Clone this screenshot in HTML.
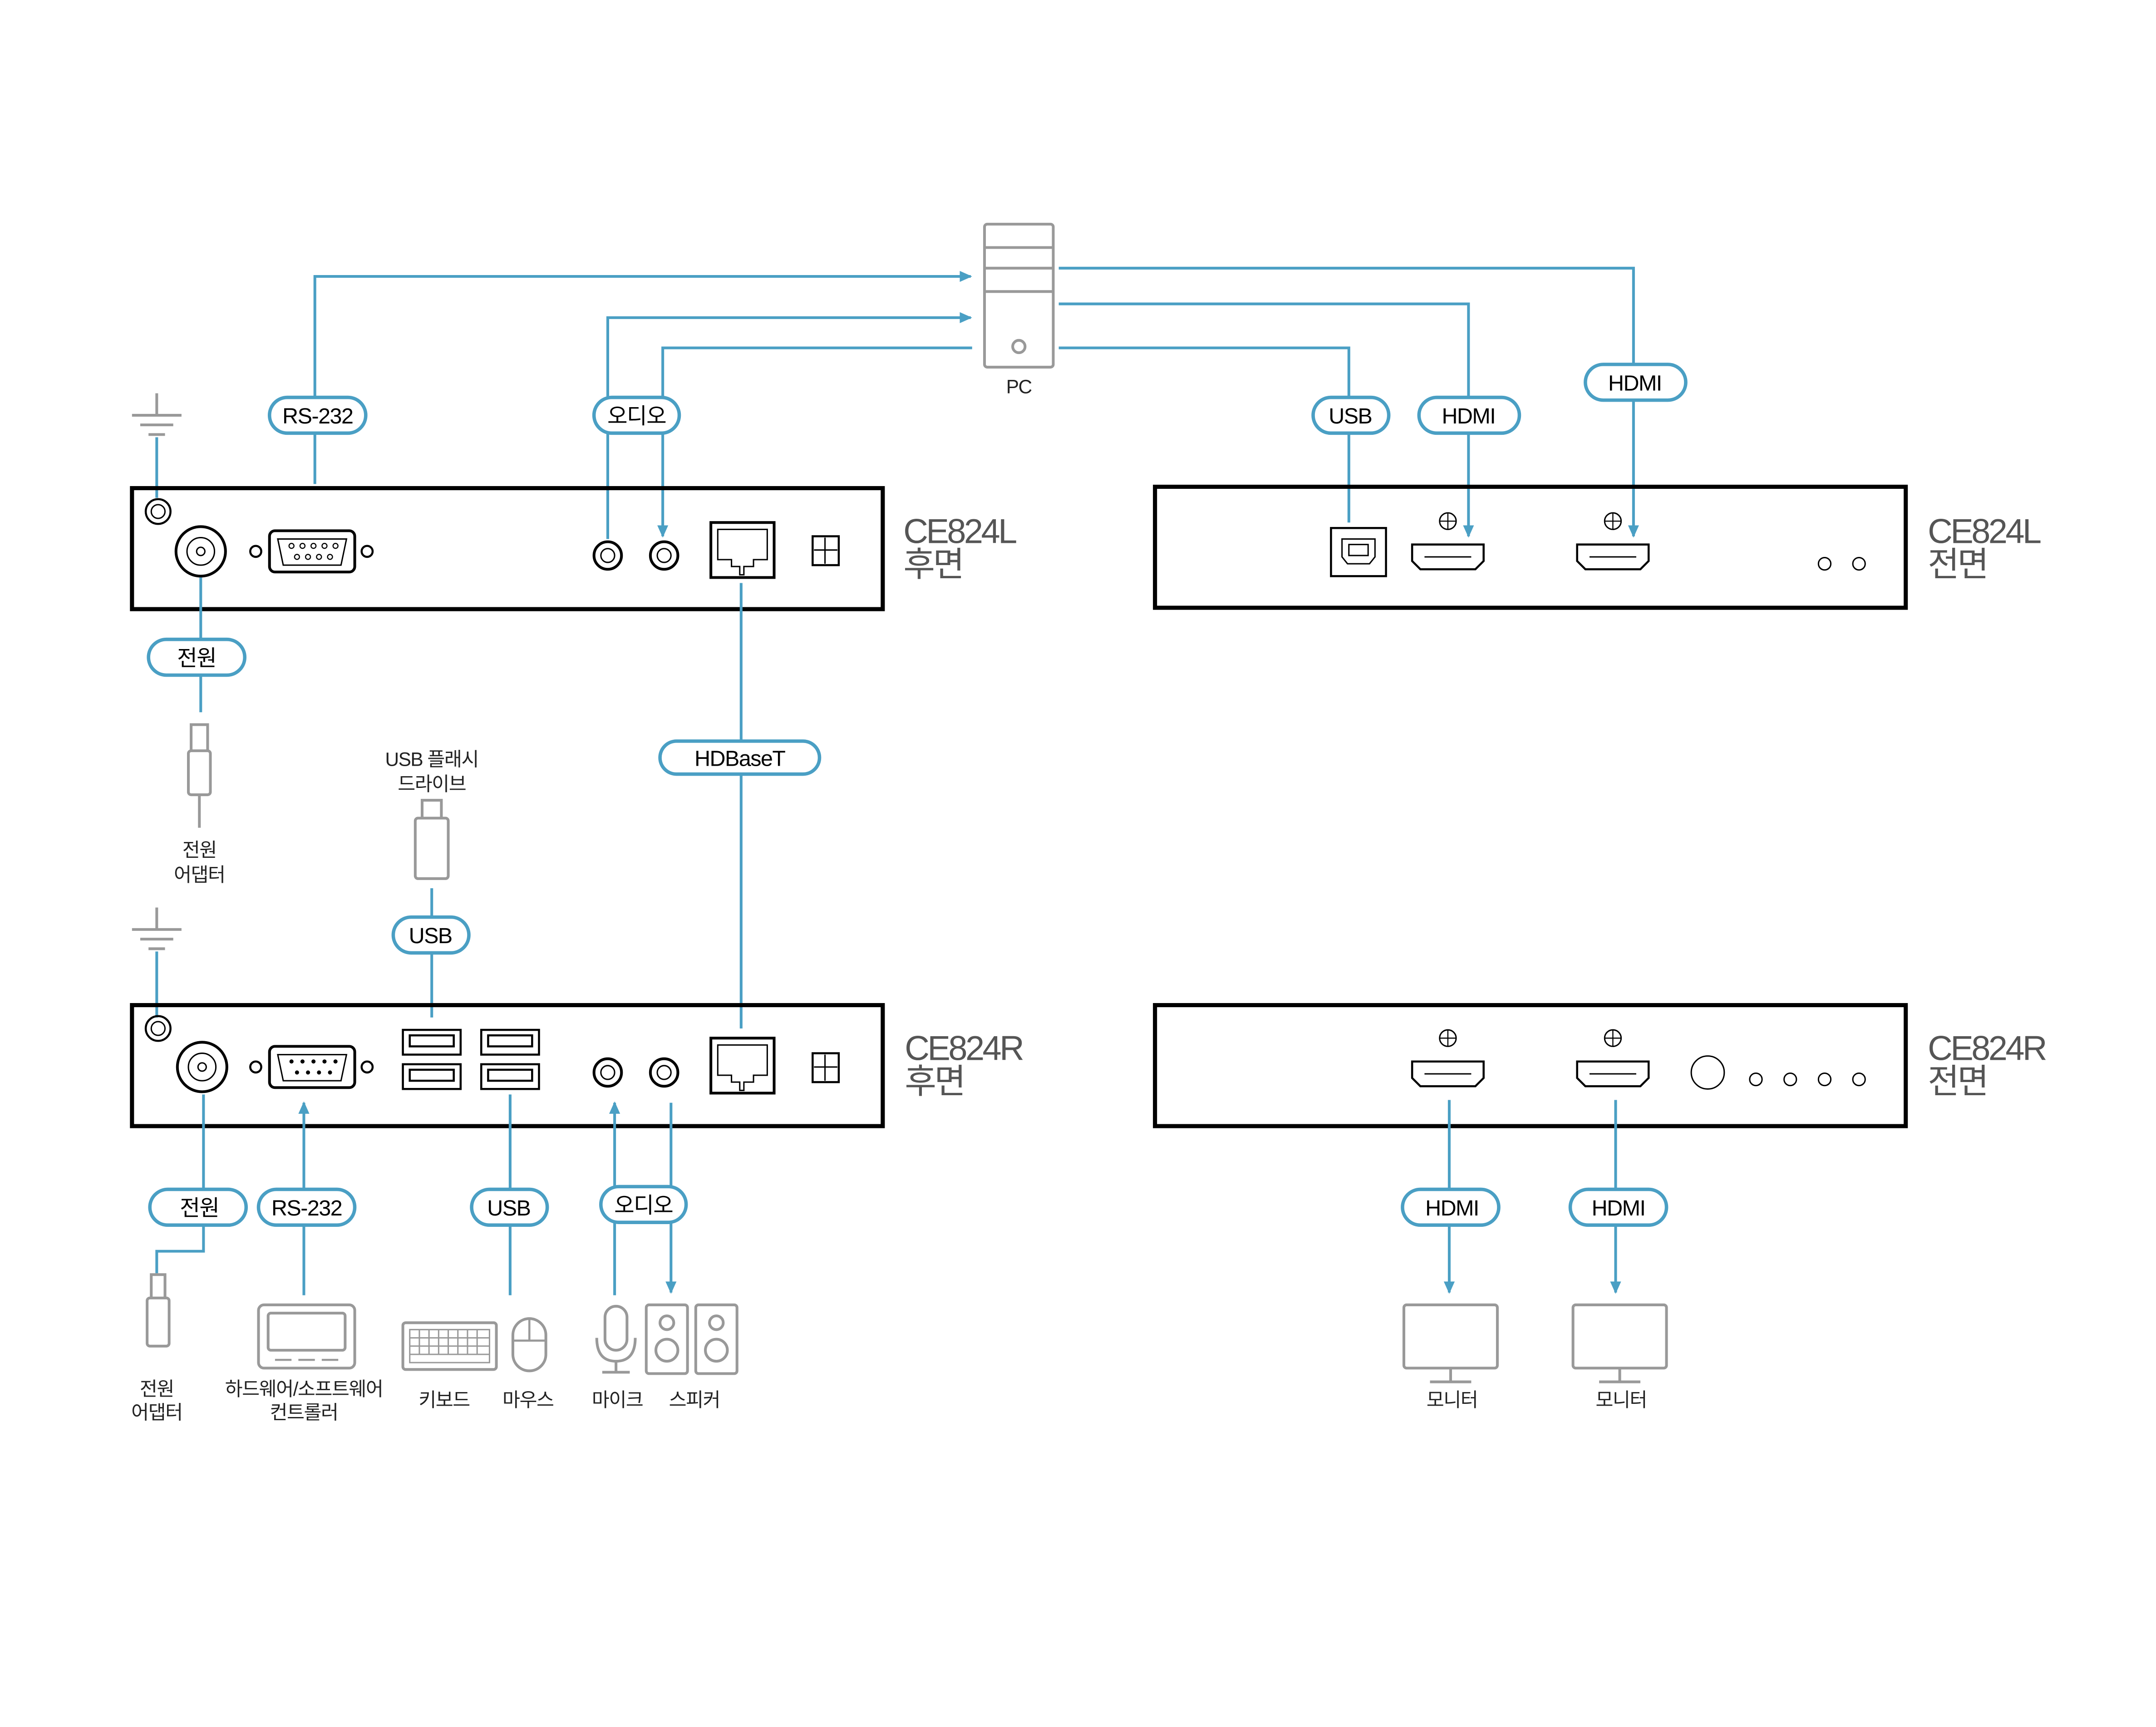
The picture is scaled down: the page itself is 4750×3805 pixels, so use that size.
<!DOCTYPE html>
<html><head><meta charset="utf-8"><style>
html,body{margin:0;padding:0;background:#fff}
svg{display:block}
text{font-family:"Liberation Sans","Noto Sans CJK KR",sans-serif}
.b{stroke:#4a9fc4;stroke-width:2;fill:none}
.k{stroke:#000;fill:none}
.g{stroke:#999;fill:#fff;stroke-width:2}
.p rect{fill:#fff;stroke:#4a9fc4;stroke-width:2.5}
.p text{font-size:16px;text-anchor:middle;fill:#000;letter-spacing:-0.5px}
.t{font-size:14px;text-anchor:middle;fill:#222;letter-spacing:-0.5px}
.big{font-size:25px;fill:#555;letter-spacing:-1.5px}
</style></head><body>
<svg width="4750" height="3805" viewBox="0 0 1568 1256" xmlns="http://www.w3.org/2000/svg">
<defs><marker id="a" markerWidth="10" markerHeight="10" refX="8" refY="5" orient="auto" markerUnits="userSpaceOnUse"><path d="M0,1 L9,5 L0,9 Z" fill="#4a9fc4"/></marker></defs>

<rect x="716" y="163" width="50" height="104" rx="2" class="g"/>
<path d="M716 180H766M716 195H766M716 212H766" stroke="#999" stroke-width="2"/>
<circle cx="741" cy="252" r="4.5" class="g"/>
<text x="741" y="286" class="t">PC</text>

<path class="b" d="M229 352V201H706" marker-end="url(#a)"/>
<path class="b" d="M442 392V231H706" marker-end="url(#a)"/>
<path class="b" d="M707 253H482V390" marker-end="url(#a)"/>
<path class="b" d="M770 195H1188V390" marker-end="url(#a)"/>
<path class="b" d="M770 221H1068V390" marker-end="url(#a)"/>
<path class="b" d="M770 253H981V380"/>

<g stroke="#999" stroke-width="2"><path d="M114 286V302M96 302H132M102 309H126M108 316H120"/>
<path d="M114 660V676M96 676H132M102 683H126M108 690H120"/></g>
<path class="b" d="M114 318V362M114 692V740"/>

<rect x="96" y="355" width="546" height="88" class="k" stroke-width="3"/>
<circle cx="115" cy="372" r="9" class="k" stroke-width="1.5"/><circle cx="115" cy="372" r="5" class="k"/>
<circle cx="146" cy="401" r="18" class="k" stroke-width="2"/><circle cx="146" cy="401" r="10" class="k"/><circle cx="146" cy="401" r="3" class="k"/>
<circle cx="186" cy="401" r="4" class="k" stroke-width="1.5"/><circle cx="267" cy="401" r="4" class="k" stroke-width="1.5"/>
<rect x="196" y="386" width="62" height="30" rx="4" class="k" stroke-width="2"/>
<path d="M202 392H252L248 411H206Z" class="k"/>
<g fill="none" stroke="#000" stroke-width="0.8"><circle cx="212" cy="397" r="1.8"/><circle cx="220" cy="397" r="1.8"/><circle cx="228" cy="397" r="1.8"/><circle cx="236" cy="397" r="1.8"/><circle cx="244" cy="397" r="1.8"/><circle cx="216" cy="405" r="1.8"/><circle cx="224" cy="405" r="1.8"/><circle cx="232" cy="405" r="1.8"/><circle cx="240" cy="405" r="1.8"/></g>
<circle cx="442" cy="404" r="10" class="k" stroke-width="2"/><circle cx="442" cy="404" r="5" class="k"/>
<circle cx="483" cy="404" r="10" class="k" stroke-width="2"/><circle cx="483" cy="404" r="5" class="k"/>
<rect x="517" y="380" width="46" height="40" class="k" stroke-width="2"/><path d="M522 385H558V407H548V412H541V418H538V412H532V407H522Z" class="k"/>
<rect x="591" y="390" width="19" height="21" class="k" stroke-width="1.5"/><path d="M600 391V410M592 400H609" class="k"/>
<text x="657" y="395" class="big">CE824L</text><text x="657" y="419" class="big">후면</text>

<rect x="840" y="354" width="546" height="88" class="k" stroke-width="3"/>
<rect x="968" y="384" width="40" height="35" class="k" stroke-width="1.5"/><path d="M976 392H1000V405L996 410H980L976 405Z" class="k"/><rect x="981" y="396" width="14" height="8" class="k"/>
<circle cx="1053" cy="379" r="6" class="k"/><path d="M1053 373V385M1047 379H1059" class="k" stroke-width="0.8"/>
<path d="M1027 396H1079V408L1073 414H1033L1027 408Z" class="k" stroke-width="1.5"/><path d="M1036 405H1070" class="k"/>
<circle cx="1173" cy="379" r="6" class="k"/><path d="M1173 373V385M1167 379H1179" class="k" stroke-width="0.8"/>
<path d="M1147 396H1199V408L1193 414H1153L1147 408Z" class="k" stroke-width="1.5"/><path d="M1156 405H1190" class="k"/>
<circle cx="1327" cy="410" r="4.5" class="k"/><circle cx="1352" cy="410" r="4.5" class="k"/>
<text x="1402" y="395" class="big">CE824L</text><text x="1402" y="419" class="big">전면</text>

<path class="b" d="M146 420V518"/>
<rect x="139" y="527" width="12" height="20" class="g"/><rect x="137" y="546" width="16" height="32" rx="2" class="g"/><path d="M145 578V602" stroke="#999" stroke-width="2"/>
<text x="145" y="623" class="t">전원</text><text x="145" y="641" class="t">어댑터</text>

<path class="b" d="M539 424V748"/>

<rect x="307" y="582" width="14" height="14" class="g"/><rect x="302" y="595" width="24" height="44" rx="2" class="g"/>
<text x="314" y="557" class="t">USB 플래시</text><text x="314" y="575" class="t">드라이브</text>
<path class="b" d="M314 646V740"/>

<rect x="96" y="731" width="546" height="88" class="k" stroke-width="3"/>
<circle cx="115" cy="748" r="9" class="k" stroke-width="1.5"/><circle cx="115" cy="748" r="5" class="k"/>
<circle cx="147" cy="776" r="18" class="k" stroke-width="2"/><circle cx="147" cy="776" r="10" class="k"/><circle cx="147" cy="776" r="3" class="k"/>
<circle cx="186" cy="776" r="4" class="k" stroke-width="1.5"/><circle cx="267" cy="776" r="4" class="k" stroke-width="1.5"/>
<rect x="196" y="761" width="62" height="30" rx="4" class="k" stroke-width="2"/>
<path d="M202 767H252L248 786H206Z" class="k"/>
<g fill="#000"><circle cx="212" cy="772" r="1.5"/><circle cx="220" cy="772" r="1.5"/><circle cx="228" cy="772" r="1.5"/><circle cx="236" cy="772" r="1.5"/><circle cx="244" cy="772" r="1.5"/><circle cx="216" cy="780" r="1.5"/><circle cx="224" cy="780" r="1.5"/><circle cx="232" cy="780" r="1.5"/><circle cx="240" cy="780" r="1.5"/></g>
<g class="k" stroke-width="1.5"><rect x="293" y="749" width="42" height="18"/><rect x="298" y="753" width="32" height="8"/><rect x="293" y="774" width="42" height="18"/><rect x="298" y="778" width="32" height="8"/>
<rect x="350" y="749" width="42" height="18"/><rect x="355" y="753" width="32" height="8"/><rect x="350" y="774" width="42" height="18"/><rect x="355" y="778" width="32" height="8"/></g>
<circle cx="442" cy="780" r="10" class="k" stroke-width="2"/><circle cx="442" cy="780" r="5" class="k"/>
<circle cx="483" cy="780" r="10" class="k" stroke-width="2"/><circle cx="483" cy="780" r="5" class="k"/>
<rect x="517" y="755" width="46" height="40" class="k" stroke-width="2"/><path d="M522 760H558V782H548V787H541V793H538V787H532V782H522Z" class="k"/>
<rect x="591" y="766" width="19" height="21" class="k" stroke-width="1.5"/><path d="M600 767V786M592 776H609" class="k"/>
<text x="658" y="771" class="big">CE824R</text><text x="658" y="795" class="big">후면</text>

<rect x="840" y="731" width="546" height="88" class="k" stroke-width="3"/>
<circle cx="1053" cy="755" r="6" class="k"/><path d="M1053 749V761M1047 755H1059" class="k" stroke-width="0.8"/>
<path d="M1027 772H1079V784L1073 790H1033L1027 784Z" class="k" stroke-width="1.5"/><path d="M1036 781H1070" class="k"/>
<circle cx="1173" cy="755" r="6" class="k"/><path d="M1173 749V761M1167 755H1179" class="k" stroke-width="0.8"/>
<path d="M1147 772H1199V784L1193 790H1153L1147 784Z" class="k" stroke-width="1.5"/><path d="M1156 781H1190" class="k"/>
<circle cx="1242" cy="780" r="12" class="k"/>
<circle cx="1277" cy="785" r="4.5" class="k"/><circle cx="1302" cy="785" r="4.5" class="k"/><circle cx="1327" cy="785" r="4.5" class="k"/><circle cx="1352" cy="785" r="4.5" class="k"/>
<text x="1402" y="771" class="big">CE824R</text><text x="1402" y="795" class="big">전면</text>

<path class="b" d="M148 796V910H114V926"/>
<path class="b" d="M221 942V802" marker-end="url(#a)"/>
<path class="b" d="M371 796V942"/>
<path class="b" d="M447 942V802" marker-end="url(#a)"/>
<path class="b" d="M488 802V940" marker-end="url(#a)"/>
<path class="b" d="M1054 800V940" marker-end="url(#a)"/>
<path class="b" d="M1175 800V940" marker-end="url(#a)"/>

<rect x="110" y="927" width="10" height="18" class="g"/><rect x="107" y="944" width="16" height="35" rx="2" class="g"/>
<text x="114" y="1015" class="t">전원</text><text x="114" y="1032" class="t">어댑터</text>
<rect x="188" y="949" width="70" height="46" rx="4" class="g"/><rect x="195" y="955" width="56" height="27" rx="2" class="g"/><path d="M200 989H212M217 989H229M234 989H246" stroke="#999" stroke-width="1.5"/>
<text x="221" y="1015" class="t">하드웨어/소프트웨어</text><text x="221" y="1032" class="t">컨트롤러</text>
<rect x="293" y="962" width="68" height="34" rx="2" class="g"/>
<g stroke="#999" stroke-width="1" fill="none"><path d="M298 967H356V991H298ZM298 973H356M298 979H356M298 985H356M305 967V985M312 967V985M319 967V985M326 967V985M333 967V985M340 967V985M347 967V985"/></g>
<rect x="373" y="959" width="24" height="38" rx="12" class="g"/><path d="M385 959V975M373 975H397" stroke="#999" stroke-width="1.5"/>
<text x="323" y="1023" class="t">키보드</text><text x="384" y="1023" class="t">마우스</text>
<rect x="440" y="950" width="16" height="32" rx="8" class="g"/><path d="M434 973Q434 990 448 990Q462 990 462 973M448 990V998M438 998H458" stroke="#999" stroke-width="2" fill="none"/>
<rect x="470" y="949" width="30" height="50" rx="2" class="g"/><circle cx="485" cy="962" r="5" class="g"/><circle cx="485" cy="982" r="8" class="g"/>
<rect x="506" y="949" width="30" height="50" rx="2" class="g"/><circle cx="521" cy="962" r="5" class="g"/><circle cx="521" cy="982" r="8" class="g"/>
<text x="449" y="1023" class="t">마이크</text><text x="505" y="1023" class="t">스피커</text>
<rect x="1021" y="949" width="68" height="46" rx="2" class="g"/><path d="M1055 995V1005M1040 1005H1070" stroke="#999" stroke-width="2"/>
<rect x="1144" y="949" width="68" height="46" rx="2" class="g"/><path d="M1178 995V1005M1163 1005H1193" stroke="#999" stroke-width="2"/>
<text x="1056" y="1023" class="t">모니터</text><text x="1179" y="1023" class="t">모니터</text>

<g class="p">
<rect x="196" y="289" width="70" height="26" rx="13"/><text x="231" y="308">RS-232</text>
<rect x="432" y="289" width="62" height="26" rx="13"/><text x="463" y="308">오디오</text>
<rect x="955" y="289" width="55" height="26" rx="13"/><text x="982" y="308">USB</text>
<rect x="1032" y="289" width="73" height="26" rx="13"/><text x="1068" y="308">HDMI</text>
<rect x="1153" y="265" width="73" height="26" rx="13"/><text x="1189" y="284">HDMI</text>
<rect x="108" y="465" width="70" height="26" rx="13"/><text x="143" y="484">전원</text>
<rect x="480" y="539" width="116" height="24" rx="12"/><text x="538" y="557">HDBaseT</text>
<rect x="286" y="667" width="55" height="26" rx="13"/><text x="313" y="686">USB</text>
<rect x="109" y="865" width="70" height="26" rx="13"/><text x="145" y="884">전원</text>
<rect x="188" y="865" width="70" height="26" rx="13"/><text x="223" y="884">RS-232</text>
<rect x="343" y="865" width="55" height="26" rx="13"/><text x="370" y="884">USB</text>
<rect x="437" y="863" width="62" height="26" rx="13"/><text x="468" y="882">오디오</text>
<rect x="1020" y="865" width="70" height="26" rx="13"/><text x="1056" y="884">HDMI</text>
<rect x="1142" y="865" width="70" height="26" rx="13"/><text x="1177" y="884">HDMI</text>
</g>
</svg>
</body></html>
